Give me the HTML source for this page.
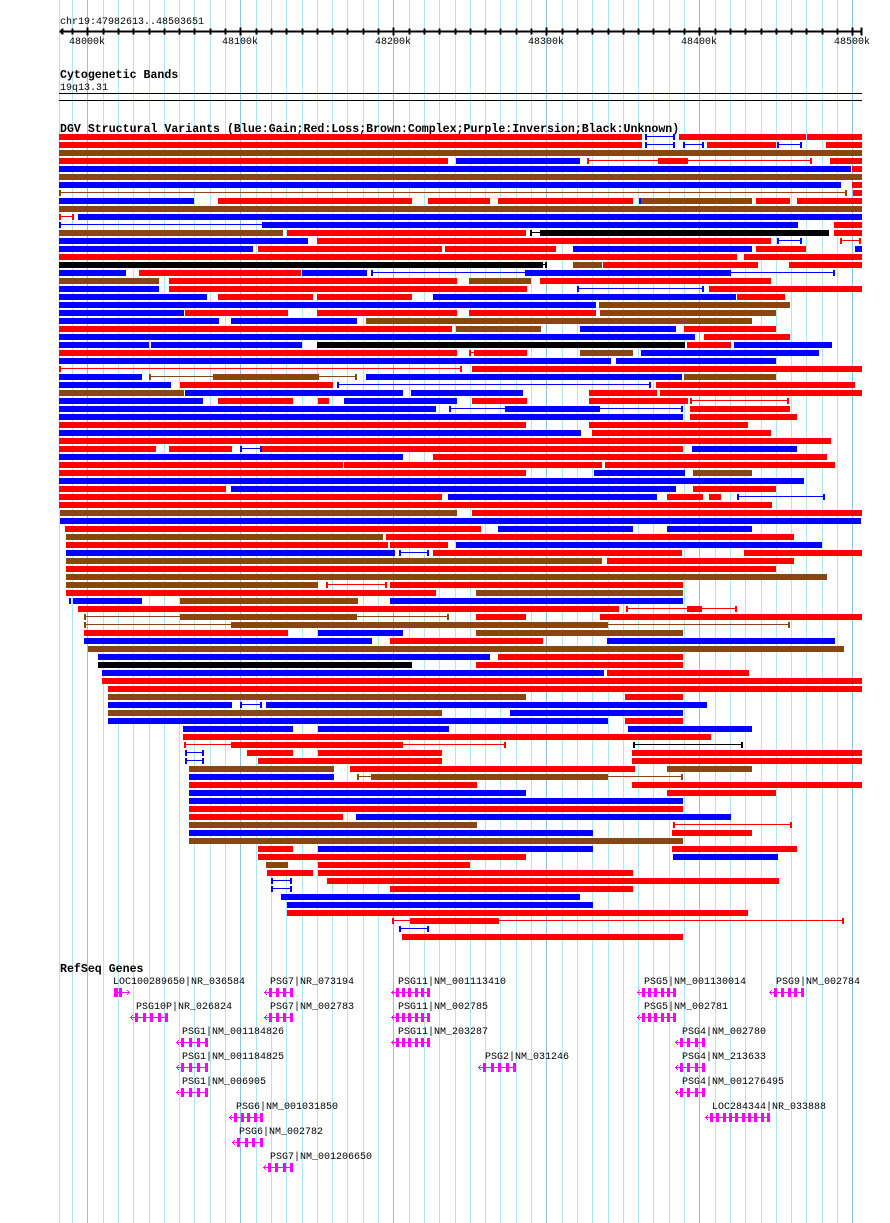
<!DOCTYPE html>
<html><head><meta charset="utf-8">
<style>
html,body{margin:0;padding:0;background:#fff;}
svg{display:block;}
text{font-family:"Liberation Mono",monospace;}
.t{font-size:10px;fill:#000;}
.b{font-size:11.6px;font-weight:bold;fill:#000;}
</style></head>
<body>
<svg id="s" width="890" height="1223" xmlns="http://www.w3.org/2000/svg" shape-rendering="crispEdges">
<g id="grid"></g>
<g id="ruler" stroke="#000" stroke-width="1"></g>
<text class="t" x="60" y="24">chr19:47982613..48503651</text>
<text class="t" x="69" y="44">48000k</text>
<text class="t" x="222" y="44">48100k</text>
<text class="t" x="375" y="44">48200k</text>
<text class="t" x="528" y="44">48300k</text>
<text class="t" x="681" y="44">48400k</text>
<text class="t" x="834" y="44">48500k</text>
<text class="b" x="60" y="78">Cytogenetic Bands</text>
<text class="t" x="60" y="90">19q13.31</text>
<rect x="59" y="93" width="803" height="1" fill="#000"/>
<rect x="59" y="100" width="803" height="1" fill="#000"/>
<text class="b" x="60" y="132">DGV Structural Variants (Blue:Gain;Red:Loss;Brown:Complex;Purple:Inversion;Black:Unknown)</text>
<g id="bars"></g>
<text class="b" x="60" y="972">RefSeq Genes</text>
<g id="genes" fill="#ff00ff"></g>
<g id="glab"></g>
</svg>
<script>
var NS="http://www.w3.org/2000/svg";
function R(g,x,y,w,h,c){var r=document.createElementNS(NS,"rect");r.setAttribute("x",x);r.setAttribute("y",y);r.setAttribute("width",w);r.setAttribute("height",h);if(c)r.setAttribute("fill",c);g.appendChild(r);}
var G=document.getElementById("grid");
R(G,59,0,1,1223,"#b0e6f0");
for(var k=-1;k<=50;k++){var x=Math.round(87.3+15.3*k);var maj=((k%10)+10)%10==0;R(G,x,0,1,1223,maj?"#8cc4e4":"#b0e6f0");}
var RU=document.getElementById("ruler");
R(RU,60,31,802,1,"#000");
R(RU,61,30,1,3,"#000");R(RU,62,29,1,5,"#000");
for(var k=-1;k<=50;k++){var x=Math.round(87.3+15.3*k);var maj=((k%10)+10)%10==0;R(RU,x,maj?28:29,1,maj?7:5,"#000");}
R(RU,861,28,1,7,"#000");
var C={r:"#ff0000",b:"#0000ff",n:"#8b4513",k:"#000000"};
var rows=[
"r59-642 tb645-675 r679-806 r807-862",
"r59-642 tb645-675 tb683-704 r707-776 tb777-802 r826-862",
"n59-862",
"r59-448 b456-580 tr587-812 r658-688 r830-862",
"b59-851 r852-862",
"n59-862",
"b59-841 r852-862",
"tn59-847 r853-862",
"b59-194 r218-412 r428-490 r498-633 b639-641 n641-752 r756-790 tr797-801 r801-862",
"n59-862",
"tr59-74 b78-862",
"tb59-264 b264-798 r834-862",
"n59-283 r287-526 tk530-829 k540-827 r834-862",
"b59-308 r317-771 tb777-802 tr840-861",
"b59-253 r258-442 r445-556 b573-752 r756-806 b855-862",
"r59-737 r744-862",
"k59-541 tk541-547 n573-602 r603-758 r789-862",
"b59-126 r139-301 b302-367 tb371-835 b525-731",
"n59-159 r169-457 n469-531 r540-771",
"b59-159 r169-527 tb577-704 r709-862",
"b59-207 r218-313 r317-412 b433-736 r737-785",
"b59-596 n599-790",
"b59-184 r185-288 r317-457 r469-596 n600-776",
"b59-219 b231-357 n366-752",
"r59-452 n456-541 b580-676 r684-776",
"b59-695 r704-790",
"b59-149 b151-302 k317-685 r687-731 b734-832",
"r59-457 tr469-476 r476-527 n580-633 b641-819",
"b59-611 b616-776",
"tr59-462 r472-862",
"b59-142 tn149-357 n213-319 b366-682 n684-776",
"b59-171 r180-333 tb337-651 r656-855",
"n59-184 b185-403 b411-523 r589-657 r660-862",
"b59-203 r218-293 r318-329 b344-457 r472-527 r589-688 tr690-789",
"b59-436 tb449-683 b505-600 r690-790",
"b59-683 r690-797",
"r59-526 r589-748",
"b59-581 r592-771",
"r59-831",
"r59-156 r169-232 tb240-262 r262-683 b692-797",
"b59-403 r433-827",
"r59-343 r344-602 r605-835",
"r59-526 b594-685 n693-752",
"b59-804",
"r59-226 b231-676 r693-776",
"r59-442 b448-657 r667-703 r709-721 tb737-825",
"r59-772",
"n60-457 r472-862",
"b60-861",
"r65-481 b498-633 b667-752",
"n66-383 r386-794",
"r66-388 r390-448 b456-822",
"b66-395 tb399-429 r433-682 r744-862",
"n66-602 r607-794",
"r66-776",
"n66-827",
"n66-318 tr326-387 r390-683",
"r66-436 n476-683",
"b69-71 b73-142 n180-358 b390-683",
"r78-619 tr626-737 r687-702",
"tn84-449 n180-357 r476-526 r600-862",
"tn84-790 n231-608",
"r84-288 b318-403 n476-683",
"b84-372 r390-543 b607-835",
"n88-844",
"b98-490 r498-683",
"k98-412 r476-683",
"b102-604 r607-749",
"r102-862",
"r108-862",
"n108-526 r625-683",
"b108-232 tb240-262 b266-707",
"n108-442 b510-683",
"b108-608 r625-683",
"b183-293 b318-449 b628-752",
"r183-711",
"tr184-506 r231-403 tk633-743",
"tb185-204 r247-293 r318-442 r632-862",
"tb185-204 r258-442 r632-862",
"n189-334 r350-635 n667-752",
"b189-334 tn357-683 n371-608",
"r189-477 r632-862",
"b189-526 r667-776",
"b189-683",
"r189-683",
"r189-343 b356-731",
"n189-477 tr673-792",
"b189-593 r672-752",
"n189-683",
"r258-293 b318-593 r672-797",
"r258-526 b673-778",
"n266-288 r318-470",
"r267-313 r318-633",
"tb271-292 r327-779",
"tb271-292 r390-633",
"b281-580",
"b287-593",
"r287-748",
"tr392-844 r410-499",
"tb399-429",
"r402-683"
];
var B=document.getElementById("bars");
rows.forEach(function(s,i){
  var y=134+8*i;
  var segs=s.split(" ");
  segs.forEach(function(g){
    if(g[0]!="t")return;
    var c=C[g[1]];var p=g.slice(2).split("-");var a=+p[0],b=+p[1];
    R(B,a,y+2,b-a,1,c);R(B,a,y,2,6,c);R(B,b-2,y,2,6,c);
  });
  segs.forEach(function(g){
    if(g[0]=="t")return;
    var c=C[g[0]];var p=g.slice(1).split("-");var a=+p[0],b=+p[1];
    R(B,a,y,Math.max(1,b-a),6,c);
  });
});
var GN=document.getElementById("genes");
var genes=[
[113,980,114,130,1],[270,980,264,293,0],[398,980,391,430,0],[644,980,637,676,0],[776,980,769,804,0],
[136,1005,130,168,0],[270,1005,264,293,0],[398,1005,391,430,0],[644,1005,637,676,0],
[182,1030,176,208,0],[398,1030,391,430,0],[682,1030,675,705,0],
[182,1055,176,208,0],[485,1055,478,516,0],[682,1055,675,705,0],
[182,1080,176,208,0],[682,1080,675,705,0],
[236,1105,229,263,0],[712,1105,705,770,0],
[239,1130,232,263,0],[270,1155,263,293,0]
];
genes.forEach(function(g){
  var y=g[1]+12, a=g[2], b=g[3];
  R(GN,a,y,b-a,1);
  if(g[4]){
    R(GN,b-3,y-2,1,1);R(GN,b-2,y-1,1,1);R(GN,b-3,y+2,1,1);R(GN,b-2,y+1,1,1);
    R(GN,a,y-4,4,9);R(GN,a+5,y-4,3,9);
  } else {
    R(GN,a+1,y-1,1,1);R(GN,a+2,y-2,1,1);R(GN,a+1,y+1,1,1);R(GN,a+2,y+2,1,1);
    var n=Math.max(3,Math.round((b-a-6)/6));
    for(var i=0;i<n;i++){var x=Math.round(a+5+i*(b-a-8)/(n-1));R(GN,x,y-4,3,9);}
  }
});
var GL=document.getElementById("glab");
var labs=["LOC100289650|NR_036584","PSG7|NR_073194","PSG11|NM_001113410","PSG5|NM_001130014","PSG9|NM_002784",
"PSG10P|NR_026824","PSG7|NM_002783","PSG11|NM_002785","PSG5|NM_002781",
"PSG1|NM_001184826","PSG11|NM_203287","PSG4|NM_002780",
"PSG1|NM_001184825","PSG2|NM_031246","PSG4|NM_213633",
"PSG1|NM_006905","PSG4|NM_001276495",
"PSG6|NM_001031850","LOC284344|NR_033888",
"PSG6|NM_002782","PSG7|NM_001206650"];
genes.forEach(function(g,i){var t=document.createElementNS(NS,"text");t.setAttribute("class","t");t.setAttribute("x",g[0]);t.setAttribute("y",g[1]+4);t.textContent=labs[i];GL.appendChild(t);});
</script>
</body></html>
